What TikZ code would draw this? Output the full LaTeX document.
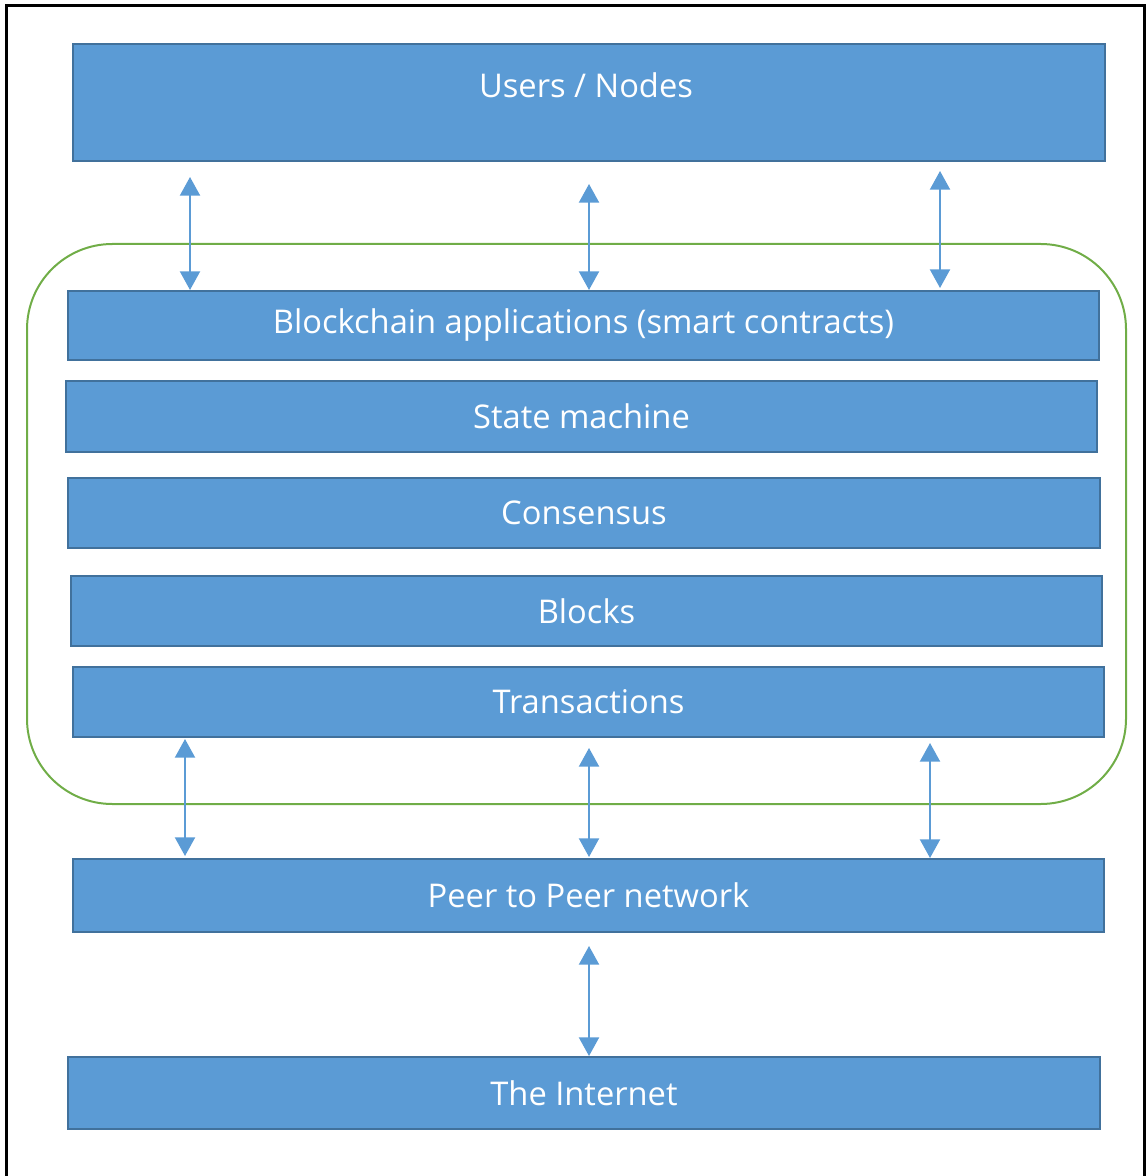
\documentclass[tikz,border=0pt]{standalone}
\usepackage{fontspec}
\setsansfont{Open Sans}
\usepackage{tikz}
\usetikzlibrary{arrows.meta,calc}
\definecolor{layerblue}{HTML}{5B9BD5}
\definecolor{layeredge}{HTML}{41719C}
\definecolor{chaingreen}{HTML}{70AD47}
\tikzset{
	layer/.style={draw=layeredge, fill=layerblue, line width=1.5pt, text=white, font=\sffamily\fontsize{24.5}{28}\selectfont, inner sep=0pt},
	link/.style={layerblue, line width=1.6pt, {Triangle[width=15pt,length=14pt]}-{Triangle[width=15pt,length=14pt]}, shorten <=0pt, shorten >=0pt}
}

\begin{document}
\begin{tikzpicture}[x=0.75pt, y=-0.75pt]
		\useasboundingbox (0,0) rectangle (1147,1176);
		\draw[line width=2.25pt] (6,1180) -- (6,6) -- (1144,6) -- (1144,1180);
		\draw[chaingreen, line width=1.5pt, rounded corners=64pt] (27,244) rectangle (1126,804);
		\begin{scope}
			\node[layer, minimum width=774pt, minimum height=87.75pt] (users) at (589,102.5) {};
			\node[text=white, font=\sffamily\fontsize{24.5}{28}\selectfont] (userstxt) at (586,85) {Users / Nodes};
			\node[layer, minimum width=773.25pt, minimum height=51.75pt] (apps) at (583.5,325.5) {Blockchain applications (smart contracts)};
			\node[layer, minimum width=773.25pt, minimum height=53.25pt] (state) at (581.5,416.5) {State machine};
			\node[layer, minimum width=774pt, minimum height=52.5pt] (cons) at (584,513) {Consensus};
			\node[layer, minimum width=773.25pt, minimum height=52.5pt] (blocks) at (586.5,611) {Blocks};
			\node[layer, minimum width=773.25pt, minimum height=52.5pt] (tx) at (588.5,702) {Transactions};
			\node[layer, minimum width=773.25pt, minimum height=54.75pt] (p2p) at (588.5,895.5) {Peer to Peer network};
			\node[layer, minimum width=774pt, minimum height=54pt] (inet) at (584,1093) {The Internet};
		\end{scope}
		\begin{scope}
			\draw[link] ($(users.south) + (-399,15)$) -- ($(apps.north) + (-393.5,0)$);
			\draw[link] ($(users.south) + (0,22)$) -- ($(apps.north) + (5.5,0)$);
			\draw[link] ($(users.south) + (351,9)$) -- ($(apps.north) + (356.5,-2)$);
			\draw[link] ($(tx.south) + (-403.5,1)$) -- ($(p2p.north) + (-403.5,-2)$);
			\draw[link] ($(tx.south) + (0.5,10)$) -- ($(p2p.north) + (0.5,-1)$);
			\draw[link] ($(tx.south) + (341.5,5)$) -- ($(p2p.north) + (341.5,0)$);
			\draw[link] ($(p2p.south) + (0.5,13)$) -- ($(inet.north) + (5,0)$);
		\end{scope}
	\end{tikzpicture}
\end{document}
